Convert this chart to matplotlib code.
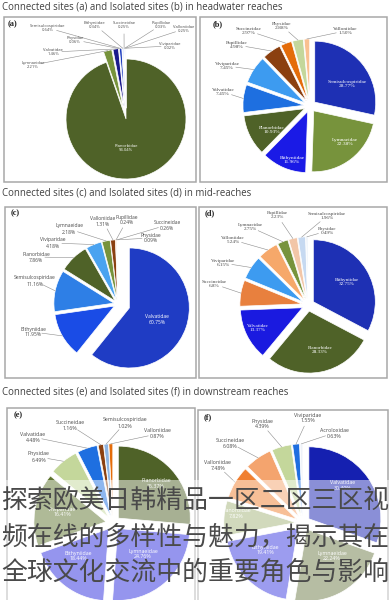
import matplotlib
matplotlib.use('Agg')
import matplotlib.pyplot as plt
from matplotlib.patches import Rectangle
import numpy as np

W, H = 391, 600

# ---------------- data ----------------
titles = ["Connected sites (a) and Isolated sites (b) in headwater reaches",
          "Connected sites (c) and Isolated sites (d) in mid-reaches",
          "Connected sites (e) and Isolated sites (f) in downstream reaches"]

a_names = ['Planorbidae', 'Lymnaeidae', 'Valvatidae', 'Physidae', 'Semisulcospiridae',
           'Bithyniidae', 'Succineidae', 'Pupillidae', 'Valloniidae', 'Viviparidae']
a_values = [94.04, 2.21, 1.46, 0.06, 0.64, 0.34, 0.25, 0.03, 0.25, 0.02]

b_names = ['Semisulcospiridae', 'Lymnaeidae', 'Bithyniidae', 'Planorbidae', 'Valvatidae',
           'Viviparidae', 'Pupillidae', 'Succineidae', 'Physidae', 'Valloniidae']
b_values = [28.77, 22.38, 11.96, 10.93, 7.45, 7.45, 4.98, 2.97, 2.88, 1.50]

c_names = ['Valvatidae', 'Bithyniidae', 'Semisulcospiridae', 'Planorbidae', 'Viviparidae',
           'Lymnaeidae', 'Valloniidae', 'Pupillidae', 'Succineidae', 'Physidae']
c_values = [60.75, 11.95, 11.16, 7.86, 4.18, 2.18, 1.31, 0.24, 0.26, 0.09]

d_names = ['Bithyniidae', 'Planorbidae', 'Valvatidae', 'Succineidae', 'Viviparidae',
           'Valloniidae', 'Lymnaeidae', 'Pupillidae', 'Semisulcospiridae', 'Physidae']
d_values = [32.75, 28.33, 13.37, 6.8, 6.15, 5.24, 2.75, 2.23, 1.96, 0.49]

e_names = ['Planorbidae', 'Lymnaeidae', 'Bithyniidae', 'Viviparidae', 'Physidae',
           'Valvatidae', 'Succineidae', 'Semisulcospiridae', 'Valloniidae']
e_values = [26.37, 24.76, 18.44, 16.41, 6.49, 4.48, 1.16, 1.02, 0.87]

f_names = ['Valvatidae', 'Lymnaeidae', 'Bithyniidae', 'Planorbidae', 'Valloniidae',
           'Succineidae', 'Physidae', 'Viviparidae', 'Acroloxidae']
f_values = [30.40, 22.24, 19.41, 7.82, 7.48, 6.08, 4.39, 1.55, 0.63]

overlay_lines = ["探索欧美日韩精品一区二区三区视",
                 "频在线的多样性与魅力，揭示其在",
                 "全球文化交流中的重要角色与影响"]

# ---------------- styles / layout ----------------
a_colors = ['#4F6228', '#77933C', '#1A1A8C', '#C4D79B', '#1F3FBF', '#DCE6F2',
            '#2F5FE8', '#F0F0F0', '#4F81F0', '#C6D9F1']
b_colors = ['#1E30B4', '#77933C', '#1A1AE6', '#4F6228', '#1E6FE0', '#3D9BF0',
            '#8B4010', '#E46C0A', '#C4D79B', '#FAC090']
c_colors = ['#1F3CC4', '#1A4CE6', '#2E7FE6', '#4F6228', '#4AA3F0', '#77933C',
            '#8B4010', '#E46C0A', '#FAC090', '#D7E4BD']
d_colors = ['#1E30B4', '#4F6228', '#1A1AE0', '#E8803E', '#3D9BF0', '#F6A86A',
            '#77933C', '#F2C6A8', '#C6D9F1', '#E6EEF8']
e_colors = ['#4F6228', '#2B2BDD', '#2B2BDD', '#5F7530', '#C4D79B', '#1E6FE0',
            '#8B4010', '#8DB4E2', '#E46C0A']
f_colors = ['#1520B0', '#6E7C48', '#3A3AE0', '#A3B47A', '#F07F30', '#F4A46E',
            '#C4D79B', '#1E6FE0', '#EEF2F8']

SANS = ['Open Sans', 'DejaVu Sans']
SERIF = ['Liberation Serif', 'DejaVu Serif']

panels = [
    dict(tag='(a)', names=a_names, values=a_values, colors=a_colors,
         center=(126, 119), r=60, explode=[0.0] + [0.18] * 9, fs=3.0, family=SANS,
         pos=[(126, 148), (33, 65), (53, 52), (75, 40), (48, 28), (95, 25), (124, 25),
              (161, 25), (184, 29), (170, 46)],
         inside=[True] + [False] * 9, decimals=None,
         box=(4, 17, 196, 182), tagpos=(12, 24)),
    dict(tag='(b)', names=b_names, values=b_values, colors=b_colors,
         center=(310, 106), r=61, explode=[0.1] * 10, fs=3.9, family=SERIF,
         pos=[(347, 84), (345, 142), (292, 160), (272, 130), (223, 92), (227, 66),
              (237, 45), (249, 31), (282, 26), (345, 31)],
         inside=[True, True, True, True] + [False] * 6, decimals=None,
         box=(200, 17, 387, 182), tagpos=(218, 24)),
    dict(tag='(c)', names=c_names, values=c_values, colors=c_colors,
         center=(118, 304), r=60, explode=[0.2] + [0.07] * 9, fs=3.6, family=SANS,
         pos=[(157, 320), (33, 332), (35, 281), (36, 257), (53, 243), (69, 229),
              (103, 221), (127, 220), (167, 225), (151, 238)],
         inside=[True] + [False] * 9, decimals=None,
         box=(5, 207, 196, 378), tagpos=(15, 213)),
    dict(tag='(d)', names=d_names, values=d_values, colors=d_colors,
         center=(308, 305), r=62, explode=[0.1] * 10, fs=3.7, family=SERIF,
         pos=[(347, 282), (320, 350), (258, 328), (214, 284), (223, 263), (233, 240),
              (250, 227), (277, 215), (327, 216), (327, 231)],
         inside=[True, True, True] + [False] * 7,
         decimals=[2, 2, 2, 1, 2, 2, 2, 2, 2, 2],
         box=(199, 207, 387, 378), tagpos=(210, 213)),
    dict(tag='(e)', names=e_names, values=e_values, colors=e_colors,
         center=(113, 523), r=72, explode=[0.1] * 9, fs=3.8, family=SANS,
         pos=[(156, 484), (143, 554), (78, 556), (62, 512), (39, 457), (33, 437),
              (70, 425), (125, 423), (157, 434)],
         inside=[True, True, True, True] + [False] * 5, decimals=None,
         box=(7, 408, 195, 606), tagpos=(18, 415)),
    dict(tag='(f)', names=f_names, values=f_values, colors=f_colors,
         center=(303, 523), r=72, explode=[0.1] * 9, fs=3.8, family=SANS,
         pos=[(343, 486), (332, 556), (265, 550), (236, 513), (218, 466), (230, 443),
              (262, 424), (308, 418), (334, 433)],
         inside=[True, True, True, True] + [False] * 5, decimals=None,
         box=(198, 410, 388, 606), tagpos=(208, 417)),
]

title_pos = [(2, 7), (2, 193), (2, 392)]


def Y(y):
    return H - y


fig = plt.figure(figsize=(W / 100, H / 100), dpi=100)
fig.patch.set_facecolor('white')
ax = fig.add_axes([0, 0, 1, 1])

for t, (tx, ty) in zip(titles, title_pos):
    ax.text(tx, Y(ty), t, ha='left', va='center', fontsize=6.9, color='#404040',
            family=SANS)

for p in panels:
    x0, y0, x1, y1 = p['box']
    ax.add_patch(Rectangle((x0, Y(y1)), x1 - x0, y1 - y0, fill=False,
                           edgecolor='#a8a8a8', lw=1.1, zorder=1))
    ax.text(p['tagpos'][0], Y(p['tagpos'][1]), p['tag'], ha='center', va='center',
            fontsize=6.0, fontweight='bold', color='#222222', family=SERIF, zorder=5)
    cx, cy = p['center']
    r = p['r']
    wedges, _ = ax.pie(p['values'], colors=p['colors'], startangle=90,
                       counterclock=False, center=(cx, Y(cy)), radius=r,
                       explode=[e * r for e in p['explode']],
                       wedgeprops=dict(edgecolor='white', linewidth=0.5),
                       frame=True)
    decs = p['decimals'] or [2] * len(p['values'])
    for w, name, v, dp, (lx, ly), ins in zip(wedges, p['names'], p['values'], decs,
                                             p['pos'], p['inside']):
        txt = f"{name}\n{v:.{dp}f}%"
        if ins:
            ax.text(lx, Y(ly), txt, ha='center', va='center', fontsize=p['fs'],
                    color='white', family=p['family'], linespacing=1.25, zorder=5)
        else:
            ax.text(lx, Y(ly), txt, ha='center', va='center', fontsize=p['fs'],
                    color='#4a4a4a', family=p['family'], linespacing=1.25, zorder=5)
            th = np.deg2rad((w.theta1 + w.theta2) / 2)
            wx, wy = w.center
            px, py = wx + w.r * np.cos(th), wy + w.r * np.sin(th)
            sx, sy = lx, Y(ly)
            d = np.hypot(px - sx, py - sy)
            if d > 10:
                ux, uy = (px - sx) / d, (py - sy) / d
                k = 9
                ax.plot([sx + ux * k, px], [sy + uy * k, py], color='#8c8c8c',
                        lw=0.4, zorder=4)

# semi-transparent overlay band with Chinese text
ax.add_patch(Rectangle((0, 0), W, Y(480), facecolor='white', edgecolor='none',
                       alpha=0.5, zorder=10))
for line, ly in zip(overlay_lines, [500, 537, 572]):
    ax.text(1, Y(ly), line, ha='left', va='center', fontsize=18.6, fontweight='light',
            color='#4a4a4a', family=['Noto Sans CJK SC', 'DejaVu Sans'], zorder=11)

ax.set_xlim(0, W)
ax.set_ylim(0, H)
ax.set_aspect('auto')
ax.axis('off')

fig.savefig('out.png', dpi=100, facecolor='white')
